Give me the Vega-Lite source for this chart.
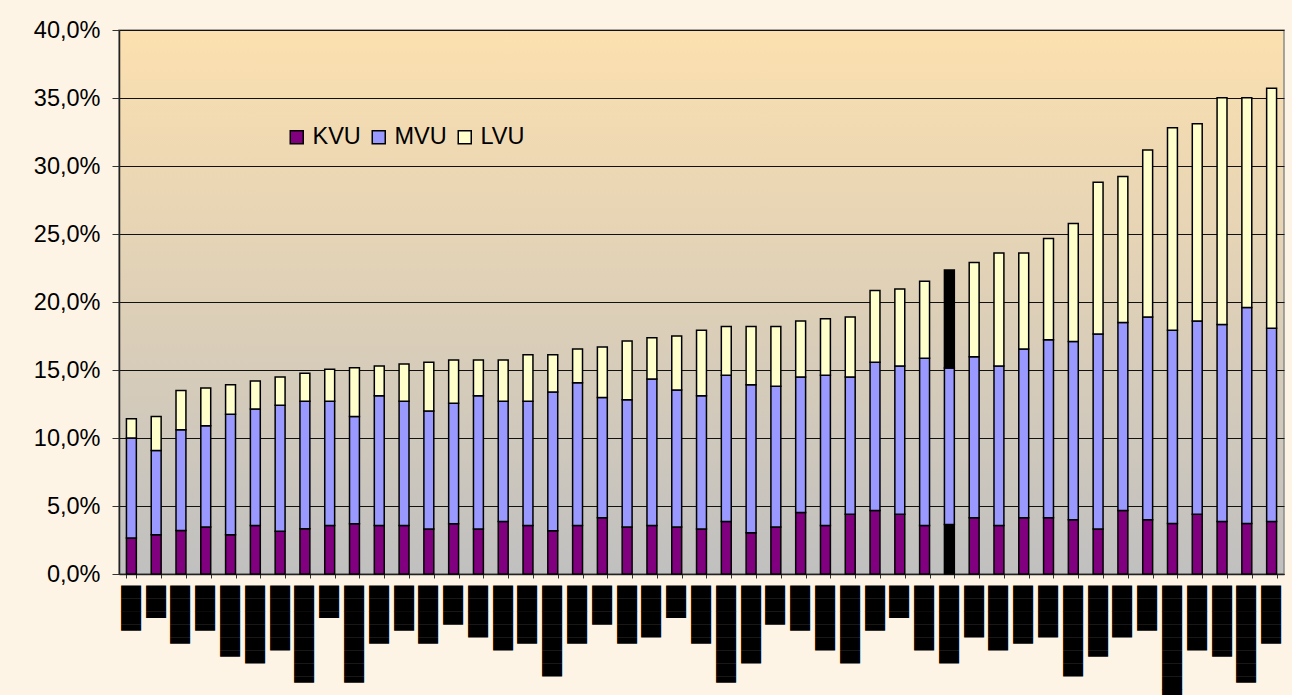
{
  "$schema": "https://vega.github.io/schema/vega-lite/v6.json",
  "width": 1165,
  "height": 544,
  "autosize": "none",
  "padding": {"left": 119, "top": 30, "right": 8, "bottom": 121},
  "background": "#FEF4E6",
  "config": {
    "view": {
      "stroke": "#8a8a8a",
      "strokeWidth": 1.5,
      "fill": {"gradient": "linear", "x1": 0, "y1": 0, "x2": 0, "y2": 1, "stops": [{"offset": 0, "color": "#FCE0AF"}, {"offset": 1, "color": "#C0C0C0"}]}
    }
  },
  "data": {
    "values": [
      {"n": "▐███", "k": 2.64, "m": 10.0, "t": 11.42, "h": false},
      {"n": "▐██", "k": 2.88, "m": 9.09, "t": 11.59, "h": false},
      {"n": "▐████", "k": 3.2, "m": 10.61, "t": 13.5, "h": false},
      {"n": "▐███\u200b", "k": 3.45, "m": 10.9, "t": 13.68, "h": false},
      {"n": "▐█████", "k": 2.88, "m": 11.74, "t": 13.92, "h": false},
      {"n": "██████", "k": 3.57, "m": 12.13, "t": 14.19, "h": false},
      {"n": "█████", "k": 3.15, "m": 12.4, "t": 14.49, "h": false},
      {"n": "▐███████", "k": 3.32, "m": 12.7, "t": 14.76, "h": false},
      {"n": "▐██\u200b", "k": 3.57, "m": 12.7, "t": 15.05, "h": false},
      {"n": "▐███████\u200b", "k": 3.69, "m": 11.59, "t": 15.17, "h": false},
      {"n": "▐████\u200b", "k": 3.57, "m": 13.11, "t": 15.3, "h": false},
      {"n": "▐███\u200b\u200b", "k": 3.57, "m": 12.7, "t": 15.44, "h": false},
      {"n": "▐████\u200b\u200b", "k": 3.3, "m": 11.98, "t": 15.57, "h": false},
      {"n": "███", "k": 3.69, "m": 12.55, "t": 15.74, "h": false},
      {"n": "████", "k": 3.3, "m": 13.11, "t": 15.74, "h": false},
      {"n": "█████\u200b", "k": 3.86, "m": 12.7, "t": 15.74, "h": false},
      {"n": "▐████\u200b\u200b\u200b", "k": 3.57, "m": 12.7, "t": 16.13, "h": false},
      {"n": "███████", "k": 3.18, "m": 13.38, "t": 16.13, "h": false},
      {"n": "▐████\u200b\u200b\u200b\u200b", "k": 3.57, "m": 14.07, "t": 16.55, "h": false},
      {"n": "███\u200b", "k": 4.13, "m": 12.97, "t": 16.69, "h": false},
      {"n": "▐████\u200b\u200b\u200b\u200b\u200b", "k": 3.45, "m": 12.82, "t": 17.14, "h": false},
      {"n": "████\u200b", "k": 3.57, "m": 14.34, "t": 17.38, "h": false},
      {"n": "▐██\u200b\u200b", "k": 3.45, "m": 13.53, "t": 17.5, "h": false},
      {"n": "▐████\u200b\u200b\u200b\u200b\u200b\u200b", "k": 3.3, "m": 13.11, "t": 17.92, "h": false},
      {"n": "▐███████\u200b\u200b", "k": 3.86, "m": 14.61, "t": 18.19, "h": false},
      {"n": "██████\u200b", "k": 3.03, "m": 13.92, "t": 18.19, "h": false},
      {"n": "███\u200b\u200b", "k": 3.45, "m": 13.8, "t": 18.19, "h": false},
      {"n": "▐███\u200b\u200b\u200b", "k": 4.53, "m": 14.49, "t": 18.61, "h": false},
      {"n": "█████\u200b\u200b", "k": 3.57, "m": 14.61, "t": 18.76, "h": false},
      {"n": "██████\u200b\u200b", "k": 4.4, "m": 14.49, "t": 18.9, "h": false},
      {"n": "▐███\u200b\u200b\u200b\u200b", "k": 4.67, "m": 15.57, "t": 20.84, "h": false},
      {"n": "▐██\u200b\u200b\u200b", "k": 4.4, "m": 15.3, "t": 20.96, "h": false},
      {"n": "█████\u200b\u200b\u200b", "k": 3.57, "m": 15.86, "t": 21.53, "h": false},
      {"n": "██████\u200b\u200b\u200b", "k": 3.64, "m": 15.15, "t": 22.36, "h": true},
      {"n": "████\u200b\u200b", "k": 4.13, "m": 15.98, "t": 22.9, "h": false},
      {"n": "█████\u200b\u200b\u200b\u200b", "k": 3.57, "m": 15.3, "t": 23.61, "h": false},
      {"n": "▐████\u200b\u200b\u200b\u200b\u200b\u200b\u200b", "k": 4.13, "m": 16.55, "t": 23.61, "h": false},
      {"n": "████\u200b\u200b\u200b", "k": 4.13, "m": 17.23, "t": 24.67, "h": false},
      {"n": "███████\u200b", "k": 3.99, "m": 17.09, "t": 25.77, "h": false},
      {"n": "▐█████\u200b", "k": 3.3, "m": 17.65, "t": 28.81, "h": false},
      {"n": "████\u200b\u200b\u200b\u200b", "k": 4.67, "m": 18.49, "t": 29.23, "h": false},
      {"n": "▐███\u200b\u200b\u200b\u200b\u200b", "k": 3.99, "m": 18.9, "t": 31.17, "h": false},
      {"n": "█████████", "k": 3.72, "m": 17.92, "t": 32.81, "h": false},
      {"n": "█████\u200b\u200b\u200b\u200b\u200b", "k": 4.4, "m": 18.61, "t": 33.11, "h": false},
      {"n": "▐█████\u200b\u200b", "k": 3.86, "m": 18.34, "t": 35.02, "h": false},
      {"n": "▐███████\u200b\u200b\u200b", "k": 3.72, "m": 19.59, "t": 35.02, "h": false},
      {"n": "▐████\u200b\u200b\u200b\u200b\u200b\u200b\u200b\u200b", "k": 3.86, "m": 18.07, "t": 35.71, "h": false}
    ]
  },
  "encoding": {
    "x": {
      "field": "n",
      "type": "nominal",
      "sort": null,
      "scale": {"paddingInner": 0.6, "paddingOuter": 0.3},
      "axis": {
        "title": null,
        "labelAngle": 270,
        "labelFont": "DejaVu Sans",
        "labelFontSize": 16.85,
        "labelColor": "black",
        "labelLimit": 400,
        "labelPadding": 7,
        "tickBand": "extent",
        "tickSize": 4,
        "tickColor": "#333333",
        "tickWidth": 1,
        "domainColor": "#222222",
        "domainWidth": 1.5,
        "labelOverlap": false
      }
    }
  },
  "layer": [
    {
      "mark": {"type": "bar", "stroke": "black", "strokeWidth": 1.5},
      "encoding": {
        "y": {
          "field": "k",
          "type": "quantitative",
          "stack": null,
          "scale": {"domain": [0, 40], "nice": false, "zero": true},
          "axis": {
            "title": null,
            "values": [0, 5, 10, 15, 20, 25, 30, 35, 40],
            "labelExpr": "replace(format(datum.value, '.1f'), '.', ',') + '%'",
            "labelFont": "Liberation Sans",
            "labelFontSize": 23.5,
            "labelColor": "black",
            "labelPadding": 12,
            "tickSize": 7,
            "tickColor": "#333333",
            "domainColor": "#222222",
            "domainWidth": 1.5,
            "grid": true,
            "gridColor": "#111111",
            "gridWidth": 1
          }
        },
        "color": {
          "condition": {"test": "datum.h", "value": "black"},
          "datum": "KVU",
          "scale": {"domain": ["KVU", "MVU", "LVU"], "range": ["#800080", "#9999FF", "#FFFFCC"]},
          "legend": {
            "orient": "none",
            "legendX": 166,
            "legendY": 95,
            "direction": "horizontal",
            "title": null,
            "symbolType": "square",
            "symbolSize": 169,
            "symbolStrokeColor": "black",
            "symbolStrokeWidth": 1.5,
            "labelFont": "Liberation Sans",
            "labelFontSize": 23.5,
            "labelColor": "black",
            "labelOffset": 4,
            "columnPadding": 6,
            "padding": 0
          }
        }
      }
    },
    {
      "mark": {"type": "bar", "stroke": "black", "strokeWidth": 1.5},
      "encoding": {
        "y": {"field": "m", "type": "quantitative", "stack": null, "axis": {"title": null}},
        "y2": {"field": "k"},
        "color": {"datum": "MVU"}
      }
    },
    {
      "mark": {"type": "bar", "stroke": "black", "strokeWidth": 1.5},
      "encoding": {
        "y": {"field": "t", "type": "quantitative", "stack": null, "axis": {"title": null}},
        "y2": {"field": "m"},
        "color": {"condition": {"test": "datum.h", "value": "black"}, "datum": "LVU"}
      }
    }
  ]
}
